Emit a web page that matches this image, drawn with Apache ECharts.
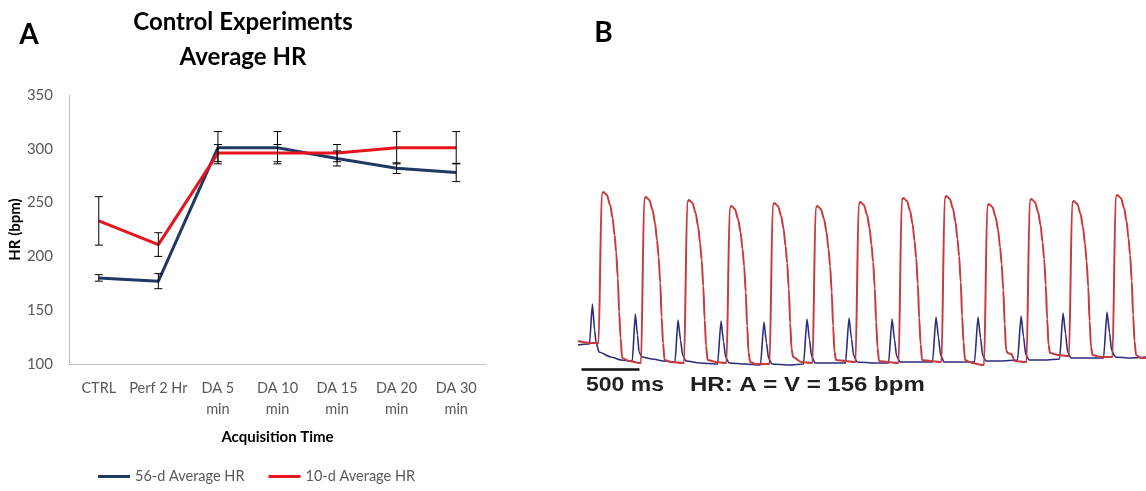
<!DOCTYPE html>
<html>
<head>
<meta charset="utf-8">
<script src="https://cdn.jsdelivr.net/npm/echarts@6/dist/echarts.min.js"></script>
<style>
html,body{margin:0;padding:0;background:#fff;}
#c{width:1146px;height:491px;}
</style>
</head>
<body>
<div id="c"></div>
<script>
// ---------- Panel A data ----------
var categories = ['CTRL', 'Perf 2 Hr', 'DA 5\nmin', 'DA 10\nmin', 'DA 15\nmin', 'DA 20\nmin', 'DA 30\nmin'];
var hr56 = [180, 177, 301, 301, 291, 282, 278];
var hr56Err = [3, 7, 15, 15, 7, 5, 8.5];
var hr10 = [233, 211, 296, 296, 296, 301, 301];
var hr10Err = [22.5, 11, 8, 8, 8, 15, 15];
var yTicks = [100, 150, 200, 250, 300, 350];

// ---------- Panel B data (time in ms, amplitude in arbitrary units) ----------
var ventTrace = [
[0,29],[103,27],[159,27],
[177,27],[205,176],[220,178],[249,175],[277,165],[298,152],[315,135],[329,118],[343,92],[355,58],[367,32],[380,12],[440,9],[530,7],
[543,7],[571,171],[586,173],[615,170],[643,160],[664,147],[681,130],[695,113],[709,87],[721,53],[733,27],[746,10],[800,8],[900,7],
[914,7],[942,168],[957,170],[986,167],[1014,157],[1035,144],[1052,127],[1066,110],[1080,84],[1092,50],[1104,24],[1117,10],[1190,8],[1270,7],
[1280,7],[1308,162],[1323,164],[1352,161],[1380,151],[1401,138],[1418,121],[1432,104],[1446,78],[1458,44],[1470,18],[1483,8],[1530,6],[1638,6],
[1651,6],[1679,165],[1694,167],[1723,164],[1751,154],[1772,141],[1789,124],[1803,107],[1817,81],[1829,47],[1841,21],[1854,13],[1925,8],[2008,7],
[2021,7],[2049,162],[2064,164],[2093,161],[2121,151],[2142,138],[2159,121],[2173,104],[2187,78],[2199,44],[2211,18],[2224,10],[2310,9],[2380,8],
[2392,8],[2420,166],[2435,168],[2464,165],[2492,155],[2513,142],[2530,125],[2544,108],[2558,82],[2570,48],[2582,22],[2595,9],[2670,8],[2750,7],
[2763,7],[2791,170],[2806,172],[2835,169],[2863,159],[2884,146],[2901,129],[2915,112],[2929,86],[2941,52],[2953,26],[2966,10],[3040,9],[3120,8],
[3133,8],[3161,172],[3176,174],[3205,171],[3233,161],[3254,148],[3271,131],[3285,114],[3299,88],[3311,54],[3323,28],[3336,10],[3400,7],[3485,5],
[3500,5],[3528,164],[3543,166],[3572,163],[3600,153],[3621,140],[3638,123],[3652,106],[3666,80],[3678,46],[3690,20],[3703,17],[3735,16],[3765,9],[3853,8],
[3866,8],[3894,169],[3909,171],[3938,168],[3966,158],[3987,145],[4004,128],[4018,111],[4032,85],[4044,51],[4056,25],[4069,17],[4140,15],[4220,14],
[4232,14],[4260,167],[4275,169],[4304,166],[4332,156],[4353,143],[4370,126],[4384,109],[4398,83],[4410,49],[4422,23],[4435,15],[4500,13],[4595,13],
[4607,13],[4635,173],[4650,175],[4679,172],[4707,162],[4728,149],[4745,132],[4759,115],[4773,89],[4785,55],[4797,29],[4810,15],[4850,12],[4896,12]
];
var atrialTrace = [
[0,25],[86,26],[99,26],[124,66],[143,40],[155,28],[181,18],[284,13],[371,10],[457,9],
[468,9],[494,56],[513,35],[526,18],[552,13],[638,11],[741,9],[828,8],
[836,8],[862,50],[884,30],[901,15],[931,9],[1052,7],
[1203,6],[1233,49],[1255,28],[1272,13],[1302,7],[1440,6],
[1573,5],[1603,48],[1625,27],[1642,12],[1672,6],[1827,5],
[1944,6],[1974,51],[1996,30],[2013,14],[2043,7],[2172,7],
[2306,7],[2336,52],[2358,31],[2375,15],[2405,8],[2560,7],
[2677,7],[2707,51],[2729,30],[2746,14],[2776,8],[2931,8],
[3056,8],[3086,53],[3108,32],[3125,15],[3155,8],[3293,8],
[3418,8],[3448,53],[3470,32],[3487,15],[3517,9],[3638,9],
[3789,10],[3819,54],[3841,33],[3858,16],[3888,10],[4026,10],
[4151,11],[4181,57],[4203,36],[4220,18],[4250,12],[4414,12],
[4530,12],[4560,58],[4582,37],[4599,20],[4631,13],[4758,12],[4896,13]
];
var scaleBar = [[30, 0.5], [530, 0.5]];
var scaleLabel = '500 ms';
var hrLabel = 'HR: A = V = 156 bpm';

// ---------- chart ----------
var chart = echarts.init(document.getElementById('c'), null, {renderer: 'canvas'});

function errData(vals, errs) {
  return vals.map(function (v, i) { return [i, v - errs[i], v + errs[i]]; });
}
function errRender(params, api) {
  var x = api.value(0);
  var lo = api.coord([x, api.value(1)]);
  var hi = api.coord([x, api.value(2)]);
  var w = 4;
  var st = {stroke: '#000', lineWidth: 1};
  return {type: 'group', children: [
    {type: 'line', shape: {x1: lo[0], y1: lo[1], x2: hi[0], y2: hi[1]}, style: st},
    {type: 'line', shape: {x1: lo[0] - w, y1: lo[1], x2: lo[0] + w, y2: lo[1]}, style: st},
    {type: 'line', shape: {x1: hi[0] - w, y1: hi[1], x2: hi[0] + w, y2: hi[1]}, style: st}
  ]};
}

var labelFont = 'Lato';
var option = {
  animation: false,
  backgroundColor: '#ffffff',
  grid: [
    {left: 69, right: 660, top: 95, bottom: 127},
    {left: 578, right: 0, top: 185, bottom: 121}
  ],
  xAxis: [
    {
      type: 'category', gridIndex: 0, data: categories, boundaryGap: true,
      axisLine: {lineStyle: {color: '#bfbfbf', width: 1}},
      axisTick: {show: false},
      axisLabel: {color: '#595959', fontFamily: labelFont, fontSize: 14.5, margin: 14, lineHeight: 21, interval: 0},
      name: 'Acquisition Time', nameLocation: 'middle', nameGap: 66,
      nameTextStyle: {color: '#000', fontFamily: labelFont, fontWeight: 'bold', fontSize: 15}
    },
    {type: 'value', gridIndex: 1, min: 0, max: 4896, show: false}
  ],
  yAxis: [
    {
      type: 'value', gridIndex: 0, min: yTicks[0], max: yTicks[yTicks.length - 1], interval: 50,
      axisLine: {show: true, lineStyle: {color: '#bfbfbf', width: 1}},
      axisTick: {show: false},
      splitLine: {show: false},
      axisLabel: {color: '#595959', fontFamily: labelFont, fontSize: 15, margin: 16},
      name: 'HR (bpm)', nameLocation: 'middle', nameGap: 46,
      nameTextStyle: {color: '#000', fontFamily: labelFont, fontWeight: 'bold', fontSize: 15}
    },
    {type: 'value', gridIndex: 1, min: 0, max: 185, show: false}
  ],
  legend: {
    left: 98, top: 469, padding: 0, icon: 'rect', itemWidth: 32, itemHeight: 3, itemGap: 24,
    textStyle: {color: '#595959', fontFamily: labelFont, fontSize: 14.5},
    data: ['56-d Average HR', '10-d Average HR']
  },
  series: [
    {
      name: '56-d Average HR', type: 'line', xAxisIndex: 0, yAxisIndex: 0, data: hr56,
      symbol: 'none', lineStyle: {color: '#1f3864', width: 3}, itemStyle: {color: '#1f3864'}, z: 2
    },
    {
      name: '10-d Average HR', type: 'line', xAxisIndex: 0, yAxisIndex: 0, data: hr10,
      symbol: 'none', lineStyle: {color: '#e8141b', width: 3}, itemStyle: {color: '#e8141b'}, z: 3
    },
    {type: 'custom', xAxisIndex: 0, yAxisIndex: 0, data: errData(hr56, hr56Err), renderItem: errRender, z: 5},
    {type: 'custom', xAxisIndex: 0, yAxisIndex: 0, data: errData(hr10, hr10Err), renderItem: errRender, z: 5},
    {
      type: 'line', xAxisIndex: 1, yAxisIndex: 1, data: atrialTrace, symbol: 'none',
      smooth: 0.2, smoothMonotone: 'x',
      lineStyle: {color: '#2d2c7c', width: 1.6}, z: 2, silent: true
    },
    {
      type: 'line', xAxisIndex: 1, yAxisIndex: 1, data: ventTrace, symbol: 'none',
      smooth: 0.3, smoothMonotone: 'x',
      lineStyle: {color: '#c83a3e', width: 2}, z: 3, silent: true
    },
    {
      type: 'line', xAxisIndex: 1, yAxisIndex: 1, data: scaleBar, symbol: 'none', clip: false,
      lineStyle: {color: '#111', width: 2.5}, z: 4, silent: true
    }
  ],
  graphic: [
    {type: 'text', x: 29, y: 35, style: {text: 'A', font: 'bold 28px Lato', fill: '#000', textAlign: 'center', textVerticalAlign: 'middle'}},
    {type: 'text', x: 603.5, y: 33, style: {text: 'B', font: 'bold 28px Lato', fill: '#000', textAlign: 'center', textVerticalAlign: 'middle'}},
    {type: 'text', x: 243, y: 39.5, style: {text: 'Control Experiments\nAverage HR', font: 'bold 24px Lato', lineHeight: 35, fill: '#000', textAlign: 'center', textVerticalAlign: 'middle'}},
    {type: 'text', x: 586, y: 385, scaleX: 1.15, style: {text: scaleLabel, font: 'bold 20px "Liberation Sans"', fill: '#231f20', textAlign: 'left', textVerticalAlign: 'middle'}},
    {type: 'text', x: 690, y: 385, scaleX: 1.2, style: {text: hrLabel, font: 'bold 20px "Liberation Sans"', fill: '#231f20', textAlign: 'left', textVerticalAlign: 'middle'}}
  ]
};
chart.setOption(option);
</script>
</body>
</html>
